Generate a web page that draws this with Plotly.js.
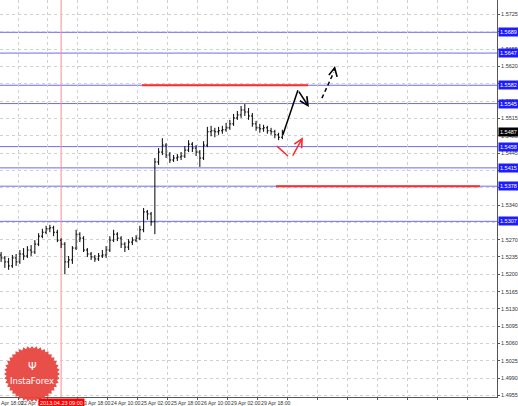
<!DOCTYPE html>
<html>
<head>
<meta charset="utf-8">
<script src="https://cdn.plot.ly/plotly-3.0.1.min.js"></script>
<style>html,body{margin:0;padding:0;background:#fff;}#chart{width:518px;height:406px;}</style>
</head>
<body>
<div id="chart"></div>
<script>
// ---- data (2-hour bars, price) ----
const opens = [1.5239,1.5233,1.5225,1.5217,1.5233,1.5225,1.5241,1.5237,1.5249,1.5245,
1.5261,1.5277,1.5285,1.5292,1.5294,1.5285,1.5269,1.5261,1.5225,1.5229,
1.5253,1.5281,1.5273,1.5249,1.5241,1.5235,1.5231,1.5237,1.5239,1.5249,
1.5269,1.5281,1.5273,1.5261,1.5255,1.5265,1.5269,1.5273,1.5290,1.5326,
1.5322,1.5306,1.5427,1.5447,1.5461,1.5441,1.5431,1.5435,1.5437,1.5439,
1.5451,1.5463,1.5455,1.5447,1.5435,1.5461,1.5488,1.5490,1.5488,1.5490,
1.5492,1.5496,1.5504,1.5516,1.5522,1.5532,1.5528,1.5520,1.5504,1.5496,
1.5494,1.5496,1.5490,1.5488,1.5482,1.5477];
const highs = [1.5245,1.5237,1.5233,1.5239,1.5241,1.5249,1.5253,1.5257,1.5259,1.5269,
1.5283,1.5292,1.5298,1.5300,1.5298,1.5290,1.5273,1.5265,1.5237,1.5257,
1.5290,1.5285,1.5277,1.5253,1.5245,1.5239,1.5243,1.5249,1.5257,1.5277,
1.5290,1.5285,1.5277,1.5265,1.5271,1.5275,1.5279,1.5298,1.5334,1.5330,
1.5326,1.5435,1.5455,1.5475,1.5465,1.5447,1.5441,1.5443,1.5447,1.5459,
1.5471,1.5467,1.5461,1.5451,1.5469,1.5498,1.5500,1.5496,1.5498,1.5500,
1.5506,1.5512,1.5524,1.5530,1.5540,1.5544,1.5536,1.5526,1.5510,1.5504,
1.5502,1.5500,1.5496,1.5492,1.5486,1.5492];
const lows = [1.5225,1.5213,1.5209,1.5213,1.5217,1.5221,1.5229,1.5233,1.5237,1.5241,
1.5257,1.5273,1.5281,1.5285,1.5277,1.5265,1.5253,1.5200,1.5213,1.5221,
1.5249,1.5265,1.5245,1.5235,1.5229,1.5225,1.5227,1.5233,1.5233,1.5245,
1.5265,1.5267,1.5253,1.5245,1.5249,1.5259,1.5265,1.5269,1.5285,1.5310,
1.5298,1.5281,1.5421,1.5441,1.5435,1.5425,1.5427,1.5429,1.5431,1.5435,
1.5447,1.5447,1.5439,1.5417,1.5431,1.5457,1.5479,1.5477,1.5482,1.5484,
1.5488,1.5492,1.5500,1.5512,1.5516,1.5520,1.5512,1.5498,1.5490,1.5486,
1.5488,1.5484,1.5482,1.5475,1.5471,1.5473];
const closes = [1.5233,1.5225,1.5217,1.5233,1.5225,1.5241,1.5237,1.5249,1.5245,1.5261,
1.5277,1.5285,1.5292,1.5294,1.5285,1.5269,1.5261,1.5225,1.5229,1.5253,
1.5281,1.5273,1.5249,1.5241,1.5235,1.5231,1.5237,1.5239,1.5249,1.5269,
1.5281,1.5273,1.5261,1.5255,1.5265,1.5269,1.5273,1.5290,1.5326,1.5322,
1.5306,1.5427,1.5447,1.5461,1.5441,1.5431,1.5435,1.5437,1.5439,1.5451,
1.5463,1.5455,1.5447,1.5435,1.5461,1.5488,1.5490,1.5488,1.5490,1.5492,
1.5496,1.5504,1.5516,1.5522,1.5532,1.5528,1.5520,1.5504,1.5496,1.5494,
1.5496,1.5490,1.5488,1.5482,1.5477,1.5487];
const bars = opens.map((_, i) => 7 + 2 * i);   // hourly bar index

const blueLevels = [1.5689, 1.5647, 1.5582, 1.5545, 1.5458, 1.5415, 1.5378, 1.5307];
const currentPrice = 1.5487;
const redLevels = [1.5582, 1.5378];
const redFrom = [82.1, 153.6];
const redTo = [170.7, 262.4];

const xTickVals = [16,32,48,64,80,96,112,128,144,160,176,192,208,224,240,256];
const xLabelVals = [16,48,64,80,96,112,128,144];
const xLabelText = ["22 Apr 10:00","23 Apr 18:00","24 Apr 10:00","25 Apr 02:00","25 Apr 18:00","26 Apr 10:00","29 Apr 02:00","29 Apr 18:00"];
const firstLabel = "19 Apr 18:00";
const markerBar = 39;
const markerLabel = "2013.04.23 09:00";

const yTickVals = [1.4955,1.4990,1.5025,1.5060,1.5095,1.5130,1.5165,1.5200,1.5235,1.5270,1.5305,1.5340,1.5375,1.5410,1.5445,1.5480,1.5515,1.5550,1.5585,1.5620,1.5655,1.5690,1.5725];

// forecast arrows (bar index, price)
const upPathX = [157.3, 165.3];
const upPathY = [1.5482, 1.5572];
const downHead = {x: 171.2, y: 1.5538};
const dashX = [178.1, 184.4];
const dashY = [1.5556, 1.5608];
const dashHead = {x: 185.1, y: 1.5621};
const redVx = [154.1, 160.0];
const redVy = [1.5459, 1.5439];
const redTail = {x: 162.1, y: 1.5437};
const redHead = {x: 168.0, y: 1.5477};

const font = "Liberation Sans, Arial, sans-serif";

const traces = [
  {type: 'ohlc', x: bars, open: opens, high: highs, low: lows, close: closes,
   increasing: {line: {color: '#000', width: 1}}, decreasing: {line: {color: '#000', width: 1}},
   tickwidth: 0.35, hoverinfo: 'skip', showlegend: false},
  {type: 'scatter', mode: 'lines', x: [redFrom[0], redTo[0]], y: [redLevels[0], redLevels[0]],
   line: {color: '#ff2a2a', width: 2}, hoverinfo: 'skip', showlegend: false},
  {type: 'scatter', mode: 'lines', x: [redFrom[1], redTo[1]], y: [redLevels[1], redLevels[1]],
   line: {color: '#ff2a2a', width: 2}, hoverinfo: 'skip', showlegend: false},
  {type: 'scatter', mode: 'lines', x: upPathX, y: upPathY,
   line: {color: '#000', width: 1.5}, hoverinfo: 'skip', showlegend: false},
  {type: 'scatter', mode: 'lines', x: dashX, y: dashY,
   line: {color: '#000', width: 1.5, dash: '4px,3px'}, hoverinfo: 'skip', showlegend: false},
  {type: 'scatter', mode: 'lines', x: redVx, y: redVy,
   line: {color: '#ff2a2a', width: 1.5}, hoverinfo: 'skip', showlegend: false}
];

const shapes = [];
blueLevels.forEach(v => shapes.push({type: 'line', xref: 'paper', x0: 0, x1: 1, yref: 'y', y0: v, y1: v,
  line: {color: '#6a6af2', width: 1}, layer: 'below'}));
shapes.push({type: 'line', xref: 'x', x0: markerBar, x1: markerBar, yref: 'paper', y0: 0, y1: 1,
  line: {color: '#ff8c8c', width: 1}, layer: 'below'});

// InstaForex badge (decoration)
let p = '';
const n = 40;
for (let i = 0; i < 2 * n; i++) {
  const r = (i % 2 === 0) ? 28 : 25.5;
  const a = Math.PI * i / n;
  p += (i === 0 ? 'M' : 'L') + (r * Math.cos(a)).toFixed(2) + ',' + (r * Math.sin(a)).toFixed(2);
}
p += 'Z';
shapes.push({type: 'path', xref: 'paper', yref: 'paper', xsizemode: 'pixel', ysizemode: 'pixel',
  xanchor: 32 / 497, yanchor: 1 - 374 / 397, path: p, fillcolor: '#e8463f', line: {width: 0}, opacity: 0.95, layer: 'above'});

const annotations = [];
blueLevels.forEach(v => annotations.push({xref: 'paper', x: 1, xanchor: 'left', xshift: 1, yref: 'y', y: v,
  text: v.toFixed(4), showarrow: false, bgcolor: '#1c1cff', borderpad: 1,
  font: {family: font, size: 5.5, color: '#fff'}}));
annotations.push({xref: 'paper', x: 1, xanchor: 'left', xshift: 1, yref: 'y', y: currentPrice,
  text: currentPrice.toFixed(4), showarrow: false, bgcolor: '#000', borderpad: 1,
  font: {family: font, size: 5.5, color: '#fff'}});
// x-axis time labels (left-aligned at their ticks, MT4 style)
xLabelVals.forEach((v, i) => annotations.push({xref: 'x', x: v, xanchor: 'left', xshift: 1,
  yref: 'paper', y: 0, yanchor: 'top', yshift: -1, text: xLabelText[i], showarrow: false, borderpad: 1,
  font: {family: font, size: 5.2, color: '#333'}}));
annotations.push({xref: 'paper', x: -8 / 497, xanchor: 'left', yref: 'paper', y: 0, yanchor: 'top', yshift: -1,
  text: firstLabel, showarrow: false, borderpad: 1, font: {family: font, size: 5.2, color: '#333'}});
annotations.push({xref: 'x', x: markerBar, xanchor: 'center', yref: 'paper', y: 0, yanchor: 'top', yshift: -1,
  text: markerLabel, showarrow: false, bgcolor: '#ff0000', borderpad: 1,
  font: {family: font, size: 5.5, color: '#fff'}});
// arrow heads
annotations.push({xref: 'x', yref: 'y', axref: 'x', ayref: 'y', x: downHead.x, y: downHead.y, ax: upPathX[1], ay: upPathY[1],
  text: '', showarrow: true, arrowhead: 5, arrowsize: 1.1, arrowwidth: 1.5, arrowcolor: '#000', standoff: 0});
annotations.push({xref: 'x', yref: 'y', axref: 'x', ayref: 'y', x: dashHead.x, y: dashHead.y, ax: dashX[1], ay: dashY[1],
  text: '', showarrow: true, arrowhead: 5, arrowsize: 1.1, arrowwidth: 1.5, arrowcolor: '#000', standoff: 0});
annotations.push({xref: 'x', yref: 'y', axref: 'x', ayref: 'y', x: redHead.x, y: redHead.y, ax: redTail.x, ay: redTail.y,
  text: '', showarrow: true, arrowhead: 5, arrowsize: 1.1, arrowwidth: 1.5, arrowcolor: '#ff2a2a', standoff: 0});
// badge text
annotations.push({xref: 'paper', yref: 'paper', x: 32 / 497, xanchor: 'center', y: 1 - 381 / 397, yanchor: 'middle',
  text: 'InstaForex', showarrow: false,
  font: {family: 'DejaVu Sans, sans-serif', size: 8.5, color: '#fff'}});
annotations.push({xref: 'paper', yref: 'paper', x: 32 / 497, xanchor: 'center', y: 1 - 366 / 397, yanchor: 'middle',
  text: 'Ψ', showarrow: false,
  font: {family: 'DejaVu Sans, sans-serif', size: 11, color: '#fff'}});

const layout = {
  width: 518, height: 406,
  margin: {l: 0, r: 21, t: 0, b: 9},
  paper_bgcolor: '#fff', plot_bgcolor: '#fff',
  showlegend: false,
  xaxis: {range: [6.4, 271.5], tickmode: 'array', tickvals: xTickVals, showticklabels: false,
    showgrid: true, gridcolor: '#d0d0d0', griddash: 'dot', gridwidth: 1,
    zeroline: false, showline: true, linecolor: '#555', linewidth: 1,
    ticks: 'outside', ticklen: 2, tickcolor: '#555',
    rangeslider: {visible: false}, fixedrange: true},
  yaxis: {side: 'right', range: [1.4952, 1.57543], tickmode: 'array', tickvals: yTickVals,
    ticktext: yTickVals.map(v => v.toFixed(4)),
    showgrid: true, gridcolor: '#d0d0d0', griddash: 'dot', gridwidth: 1,
    zeroline: false, showline: true, linecolor: '#555', linewidth: 1,
    ticks: 'outside', ticklen: 2, tickcolor: '#555',
    tickfont: {family: font, size: 5.5, color: '#333'}, fixedrange: true},
  shapes: shapes,
  annotations: annotations
};

Plotly.newPlot('chart', traces, layout, {staticPlot: true, displayModeBar: false});
</script>
</body>
</html>
